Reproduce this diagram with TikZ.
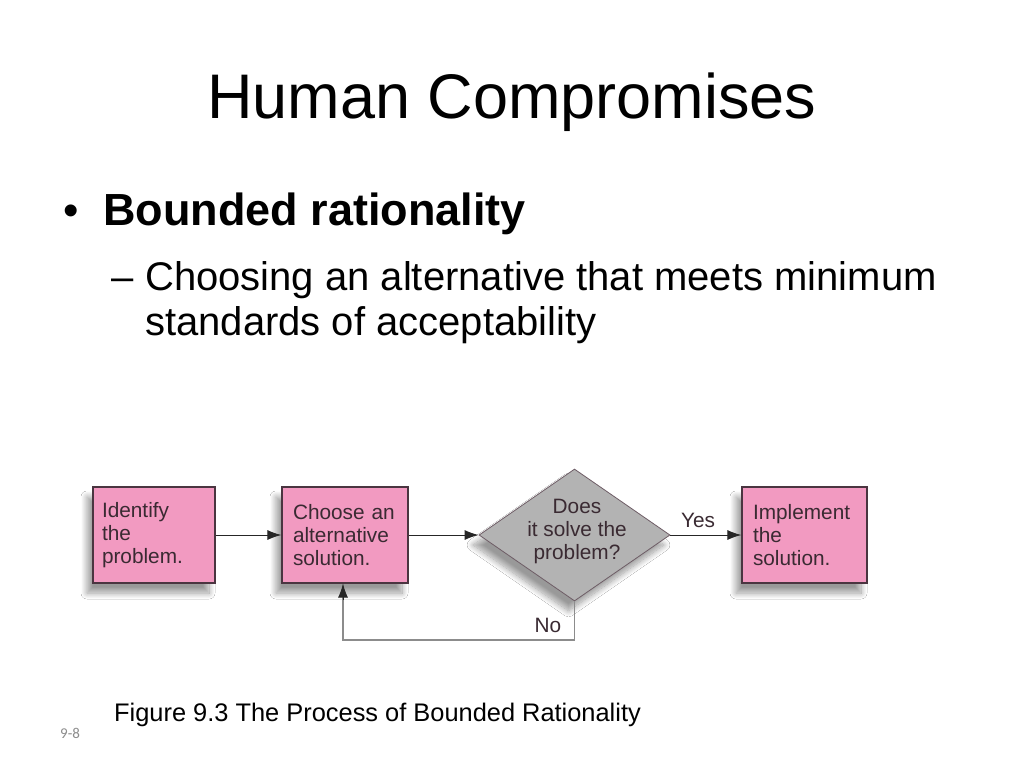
\documentclass[tikz,border=0pt]{standalone}
\usepackage{fontspec}
\setmainfont{Liberation Sans}
\newfontfamily\slidenum{Carlito}
\usetikzlibrary{shapes.geometric,arrows.meta,shadows.blur}
\definecolor{boxpink}{HTML}{F29AC1}
\definecolor{boxedge}{HTML}{4A3540}
\definecolor{boxtext}{HTML}{3A2A32}
\definecolor{diagray}{HTML}{B3B3B3}
\definecolor{backgray}{HTML}{8C8C8C}
\tikzset{
  flowbox/.style={draw=boxedge, line width=1.2pt, fill=boxpink, rectangle, align=left,
    minimum height=96pt, text=boxtext, font=\fontsize{20.8}{23}\selectfont,
    blur shadow={shadow xshift=-6pt, shadow yshift=-10pt, shadow blur steps=12, shadow blur radius=6pt, shadow opacity=40}},
  decision/.style={draw=boxedge!80, line width=0.8pt, fill=diagray, diamond, inner sep=0pt,
    minimum width=191pt, minimum height=130pt,
    blur shadow={shadow xshift=-6pt, shadow yshift=-10pt, shadow blur steps=12, shadow blur radius=6pt, shadow opacity=40}},
  flowarrow/.style={-{Latex[length=14pt,width=10pt]}, line width=1pt, black!85},
  backline/.style={line width=1.2pt, backgray},
  lbl/.style={font=\fontsize{20.8}{23}\selectfont, text=boxtext, inner sep=0pt}
}
\begin{document}
\begin{tikzpicture}[x=1pt,y=-1pt]
\useasboundingbox[fill=white] (0,0) rectangle (1024,768);
% title
\node[anchor=base, inner sep=0pt, font=\fontsize{63}{70}\selectfont] (title) at (512,118) {Human Compromises};
% bullets
\node[anchor=base west, inner sep=0pt, font=\fontsize{44}{50}\selectfont] (bul) at (63,225) {•};
\node[anchor=base west, inner sep=0pt, font=\bfseries\fontsize{45}{50}\selectfont] (b1) at (103,225) {Bounded rationality};
\node[anchor=base west, inner sep=0pt, font=\fontsize{40}{45}\selectfont] (dash) at (111,290) {–};
\node[anchor=base west, inner sep=0pt, font=\fontsize{40}{45}\selectfont] (s1) at (145,290) {Choosing an alternative that meets minimum};
\node[anchor=base west, inner sep=0pt, font=\fontsize{40}{45}\selectfont] (s2) at (145,335) {standards of acceptability};
% flow chart
\node[flowbox, minimum width=122pt, text width=104pt, inner xsep=9pt] (p1) at (154,535) {Identify\\the\\problem.};
\node[flowbox, minimum width=126pt, text width=104pt, inner xsep=11pt] (p2) at (345,535) {Choose an\\alternative\\solution.};
\node[decision, minimum height=132pt] (q) at (574.5,535) {};
\node[lbl, align=center] (qt) at (577,531) {Does\\it solve the\\problem?};
\node[flowbox, minimum width=125pt, text width=103pt, inner xsep=11pt] (p3) at (804.5,535) {Implement\\the\\solution.};
\draw[flowarrow] (p1.east) -- (p2.west);
\draw[flowarrow] (p2.east) -- (q.west);
\draw[flowarrow] (q.east) -- (p3.west);
\coordinate (fb1) at (574.5,640);
\coordinate (fb2) at (343,640);
\draw[backline] (q.south) -- (fb1) -- (fb2) -- ([xshift=-2pt]p2.south);
\draw[flowarrow] ([xshift=-2pt]p2.south |- 0,600) -- ([xshift=-2pt]p2.south);
\node[lbl] (yes) at (698,520) {Yes};
\node[lbl] (no) at (548,625) {No};
% caption
\node[anchor=base west, inner sep=0pt, font=\fontsize{25.4}{28}\selectfont] (cap) at (114,721) {Figure 9.3 The Process of Bounded Rationality};
\node[anchor=base west, inner sep=0pt, font=\slidenum\fontsize{15}{16}\selectfont, text=black!45] (num) at (60,738) {9-8};
\end{tikzpicture}
\end{document}
